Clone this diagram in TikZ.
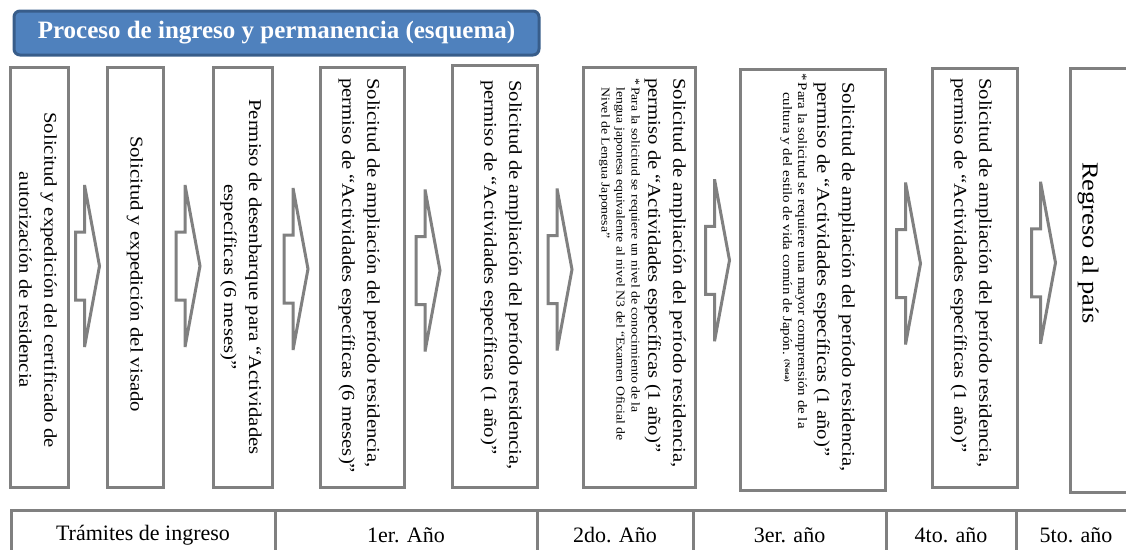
\documentclass[tikz,border=0pt]{standalone}
\usepackage{fontspec}
\setmainfont{Liberation Serif}
\newfontfamily\boxfont[FakeStretch=1.15]{Liberation Serif}
\usetikzlibrary{calc, positioning}

\definecolor{titlefill}{HTML}{4F81BD}
\definecolor{titleedge}{HTML}{385D8A}
\definecolor{edgegray}{HTML}{808080}

\begin{document}
\begin{tikzpicture}[x = 1pt, y = -1pt,
	stepbox/.style = {draw = edgegray, line width = 3pt, inner sep = 0pt, outer sep = 0pt, anchor = north west},
	titlebox/.style = {draw = titleedge, fill = titlefill, line width = 3pt, rounded corners = 6pt, text = white, font = \bfseries\fontsize{25}{30}\selectfont, inner sep = 0pt, outer sep = 0pt, anchor = north west},
	boxtext/.style = {rotate = -90, inner sep = 0pt, align = left, font = \boxfont\fontsize{18}{25}\selectfont},
	notetext/.style = {boxtext, font = \boxfont\fontsize{12}{15}\selectfont},
	cell/.style = {draw = edgegray, line width = 3pt, inner sep = 0pt, outer sep = 0pt, minimum height = 50, font = \fontsize{22}{26}\selectfont},
	blockarrow/.pic = {\draw [edgegray, line width = 3pt] (-3,-81) -- (-3,-34) -- (-12,-34) -- (-12,34) -- (-3,34) -- (-3,81) -- (12,0) -- cycle;}
	]
	\useasboundingbox (0,0) rectangle (1126,549);

	% title
	\node [titlebox, minimum width = 525, minimum height = 44] (title) at (14,11) {Proceso de ingreso y permanencia (esquema)};

	% step boxes
	\foreach \n/\x/\y/\w/\h in {b1/10/67/58/420, b2/107/67/56/420, b3/213/67/59/420, b4/320/67/84/420, b5/452/65/85/422, b6/583/67/112/420, b7/740/69/145/421, b8/932/68/85/419, b9/1070/68/75/424}
	{
		\node [stepbox, minimum width = \w, minimum height = \h] (\n) at (\x,\y) {};
	}

	% texts
	\node [boxtext, align = center] (t1) at (38,280) {Solicitud y expedición del certificado de\\autorización de residencia};
	\node [boxtext] (t2) at (135,274) {Solicitud y expedición del visado};
	\node [boxtext, align = center] (t3) at (241,277) {Permiso de desenbarque para “Actividades\\específicas (6 meses)”};
	\node [boxtext, anchor = north west] (t4) at (380,78) {Solicitud de ampliación del período residencia,\\permiso de “Actividades específicas (6 meses)”};
	\node [boxtext, anchor = north west] (t5) at (522,80) {Solicitud de ampliación del período residencia,\\permiso de “Actividades específicas (1 año)”};
	\node [boxtext, anchor = north west] (t6) at (686,78) {Solicitud de ampliación del período residencia,\\permiso de “Actividades específicas (1 año)”};
	\node [notetext, anchor = north west] (n6) at ($(t6.south west)+(-4,0)$) {*\,Para la solicitud se requiere un nivel de conocimiento de la\\\hspace*{9pt}lengua japonesa equivalente al nivel N3 del “Examen Oficial de\\\hspace*{9pt}Nivel de Lengua Japonesa”};
	\node [boxtext, anchor = north west] (t7) at (855,82) {Solicitud de ampliación del período residencia,\\permiso de “Actividades específicas (1 año)”};
	\node [notetext, anchor = north west, font = \boxfont\fontsize{13}{15}\selectfont] (n7) at ($(t7.south west)+(-6,-9)$) {*\,Para la solicitud se requiere una mayor comprensión de la\\\hspace*{19pt}cultura y del estilo de vida común de Japón. \raisebox{2pt}{\fontsize{7}{8}\selectfont\bfseries(Nota)}};
	\node [boxtext, anchor = north west] (t8) at (992,78) {Solicitud de ampliación del período residencia,\\permiso de “Actividades específicas (1 año)”};
	\node [boxtext, font = \boxfont\fontsize{23}{28}\selectfont] (t9) at (1088,243) {Regreso al país};

	% arrows between the boxes
	\foreach \a/\b/\dy in {b1/b2/-11, b2/b3/-11, b3/b4/-8, b4/b5/-6, b5/b6/-7, b6/b7/-18, b7/b8/-15, b8/b9/-16}
	{
		\pic at ($(\a.east)!0.5!(\b.west)+(0,\dy)$) {blockarrow};
	}

	% years
	\node [cell, minimum width = 264, anchor = north west] (c1) at (11,510) {Trámites de ingreso};
	\node [cell, minimum width = 262, right = 0pt of c1] (c2) {1er. Año};
	\node [cell, minimum width = 156, right = 0pt of c2] (c3) {2do. Año};
	\node [cell, minimum width = 193, right = 0pt of c3] (c4) {3er. año};
	\node [cell, minimum width = 130, right = 0pt of c4] (c5) {4to. año};
	\node [cell, minimum width = 120, right = 0pt of c5] (c6) {5to. año};
\end{tikzpicture}
\end{document}
